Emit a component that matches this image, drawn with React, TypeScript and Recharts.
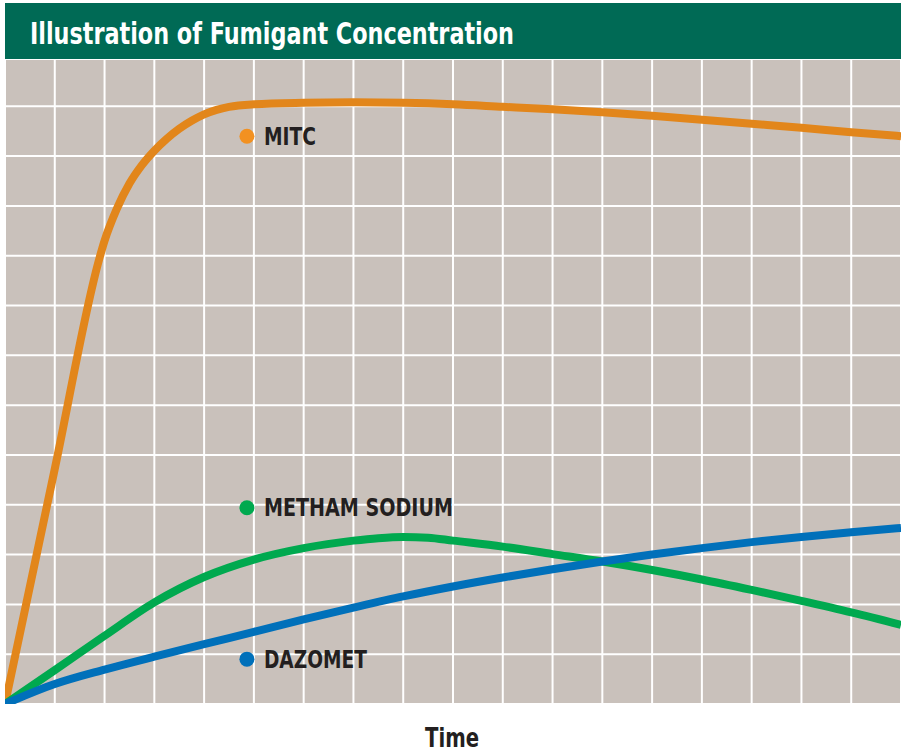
import React from 'react';
import { LineChart, Line, XAxis, YAxis, CartesianGrid, ReferenceDot } from 'recharts';

// time axis is in grid columns (0..18), level in grid rows (0..~13)
const mitcTime = [0, 1, 1.9, 2, 2.25, 2.5, 2.75, 3, 3.25, 3.5, 3.75, 4, 4.25, 4.5, 5, 6, 7, 8, 9, 10, 11, 12, 13, 14, 15, 16, 17, 18];
const mitcLevel = [0, 4.72, 8.96, 9.3, 9.95, 10.45, 10.82, 11.11, 11.35, 11.55, 11.71, 11.84, 11.93, 11.99, 12.04, 12.07, 12.08, 12.07, 12.04, 11.99, 11.94, 11.88, 11.81, 11.73, 11.65, 11.57, 11.48, 11.4];

const methamTime = [0, 1, 2, 3, 4, 5, 6, 7, 7.5, 8, 8.5, 9, 10, 11, 12, 13, 14, 15, 16, 17, 18];
const methamLevel = [0, 0.68, 1.37, 2.04, 2.55, 2.9, 3.13, 3.28, 3.33, 3.355, 3.34, 3.28, 3.16, 3.01, 2.86, 2.69, 2.5, 2.29, 2.07, 1.84, 1.59];

const dazometTime = [0, 1, 2, 3, 4, 5, 6, 7, 8, 9, 10, 11, 12, 13, 14, 15, 16, 17, 18];
const dazometLevel = [0, 0.4, 0.69, 0.95, 1.2, 1.45, 1.7, 1.935, 2.16, 2.36, 2.54, 2.705, 2.86, 3.0, 3.13, 3.25, 3.355, 3.45, 3.535];

const xTicks = [1, 2, 3, 4, 5, 6, 7, 8, 9, 10, 11, 12, 13, 14, 15, 16, 17];
const yTicks = [1, 2, 3, 4, 5, 6, 7, 8, 9, 10, 11, 12];

const seriesNames = ['MITC', 'METHAM SODIUM', 'DAZOMET'];
const labelTime = [4.86, 4.86, 4.86];
const labelLevel = [11.4, 3.94, 0.9];

const lineColors = ['#e2861b', '#00a94f', '#0070ba'];
const dotColors = ['#f29121', '#00a94f', '#0070ba'];
const labelWidths = [52, 189, 103];

const toRows = (t: number[], v: number[]) => t.map((time, i) => ({ time, level: v[i] }));
const series = [
  toRows(mitcTime, mitcLevel),
  toRows(methamTime, methamLevel),
  toRows(dazometTime, dazometLevel),
];

const FONT = "'Liberation Sans Narrow', 'DejaVu Sans Condensed', Arial, sans-serif";

const makeLabel = (i: number) => (props: any) => {
  const { cx, cy } = props;
  return (
    <g>
      <circle cx={cx} cy={cy} r={7.5} fill={dotColors[i]} />
      <text
        x={cx + 17}
        y={cy + 8.5}
        fontFamily={FONT}
        fontWeight="bold"
        fontSize={25}
        fill="#231f20"
        textLength={labelWidths[i]}
        lengthAdjust="spacingAndGlyphs"
      >
        {seriesNames[i]}
      </text>
    </g>
  );
};

export default function App() {
  return (
    <div style={{ position: 'absolute', left: 0, top: 0, width: 906, height: 756, background: '#fff' }}>
      <div style={{ position: 'absolute', left: 5, top: 3, width: 896, height: 56, background: '#006a55' }}>
        <svg width={896} height={56} style={{ display: 'block' }}>
          <text
            x={25}
            y={40.5}
            fontFamily={FONT}
            fontWeight="bold"
            fontSize={31}
            fill="#fff"
            textLength={484}
            lengthAdjust="spacingAndGlyphs"
          >
            Illustration of Fumigant Concentration
          </text>
        </svg>
      </div>
      <div style={{ position: 'absolute', left: 5, top: 59 }}>
        <LineChart width={896} height={645} margin={{ top: 0, right: 0, bottom: 0, left: 0 }}>
          <CartesianGrid fill="#c9c1bb" stroke="#ffffff" strokeWidth={2} strokeOpacity={1} />
          <XAxis type="number" dataKey="time" domain={[0, 18]} ticks={xTicks} allowDataOverflow hide />
          <YAxis type="number" dataKey="level" domain={[0, 12.95]} ticks={yTicks} allowDataOverflow hide />
          {series.map((rows, i) => (
            <Line
              key={seriesNames[i]}
              data={rows}
              dataKey="level"
              type="monotone"
              stroke={lineColors[i]}
              strokeWidth={8}
              dot={false}
              activeDot={false}
              isAnimationActive={false}
            />
          ))}
          {seriesNames.map((name, i) => (
            <ReferenceDot key={name} x={labelTime[i]} y={labelLevel[i]} shape={makeLabel(i)} />
          ))}
        </LineChart>
      </div>
      <svg width={906} height={50} style={{ position: 'absolute', left: 0, top: 706 }}>
        <text
          x={425}
          y={40.7}
          fontFamily={FONT}
          fontWeight="bold"
          fontSize={26}
          fill="#231f20"
          textLength={54}
          lengthAdjust="spacingAndGlyphs"
        >
          Time
        </text>
      </svg>
    </div>
  );
}
